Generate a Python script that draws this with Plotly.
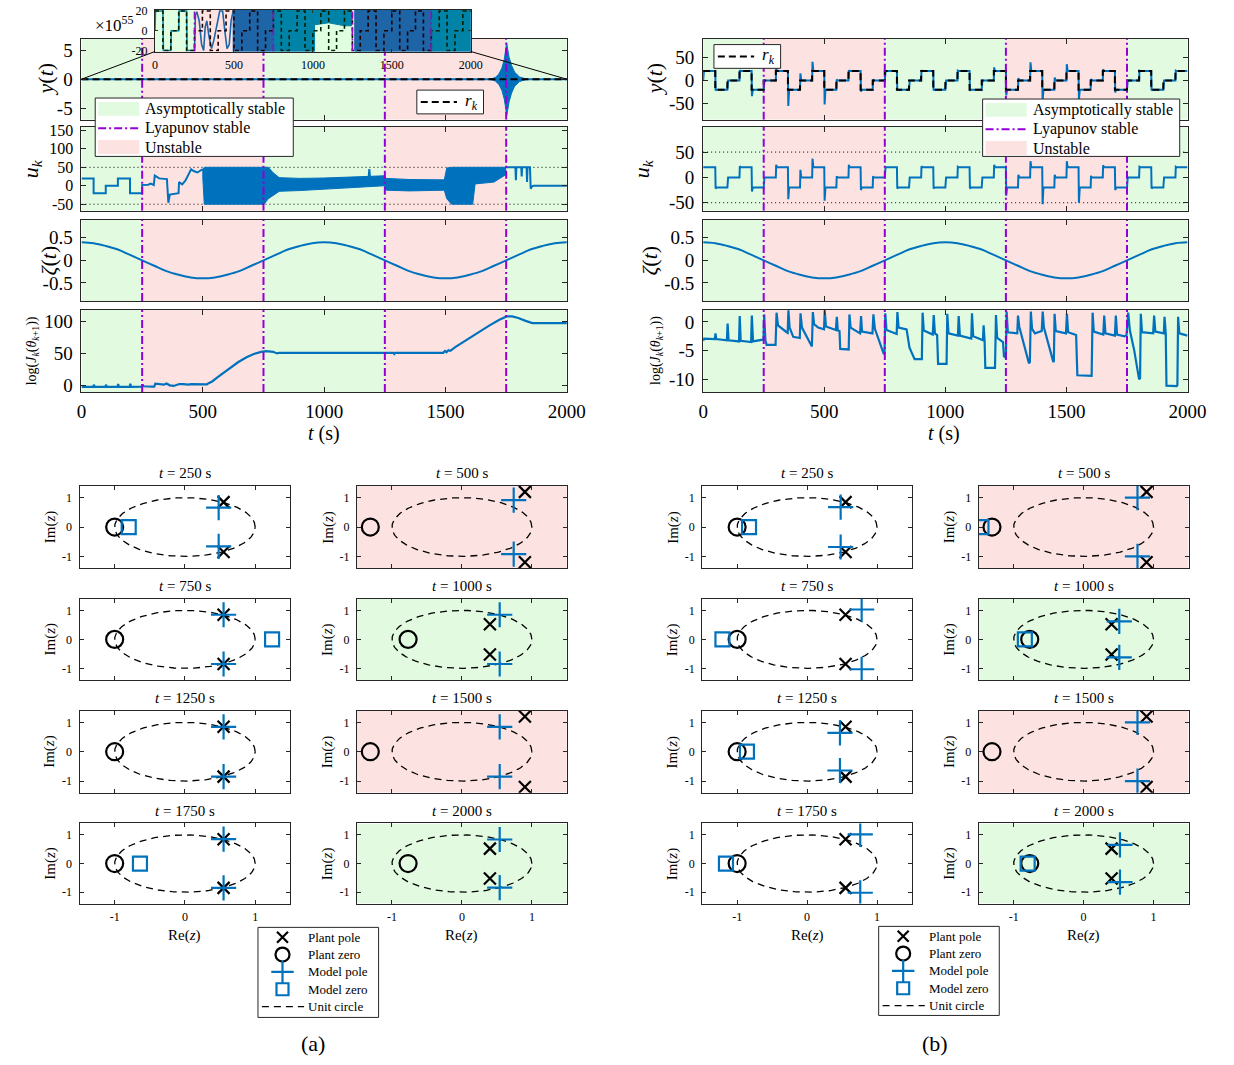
import numpy as np
import plotly.graph_objects as go

W, H = 1234, 1065
SERIF = "Liberation Serif"
BLUE = "#0072BD"
PURPLE = "#9400D3"
GREEN = "#E2FBE0"
PINK = "#FDE2E2"
EDGE = "#262626"
GREEN_VEIL = "rgba(0,255,0,0.12)"
PINK_VEIL = "rgba(255,0,0,0.115)"

# ---------------- data ----------------
region_edges = [0, 250, 750, 1250, 1750, 2000]
region_kind = ["stable", "unstable", "stable", "unstable", "stable"]
lyap_times = [250, 750, 1250, 1750]

step_s = 50
# reference command r_k, one level per 50 s step
r_levels = [20, -20, 0, 20, -20, 0, 20, -20, 0, 20,
            -20, 0, 20, -20, 0, 20, -20, 0, 20, -20,
            0, 20, -20, 0, 20, -20, 0, 20, -20, 0,
            20, -20, 0, 20, -20, 0, 20, -20, 0, 20]

# scheduling variable zeta(t)
zeta_t = [0, 50, 100, 150, 200, 250, 300, 350, 400, 450, 500, 550, 600, 650, 700, 750, 800, 850, 900, 950,
          1000, 1050, 1100, 1150, 1200, 1250, 1300, 1350, 1400, 1450, 1500, 1550, 1600, 1650, 1700, 1750,
          1800, 1850, 1900, 1950, 2000]
zeta_v = [0.40, 0.38, 0.32, 0.24, 0.12, 0.00, -0.12, -0.24, -0.32, -0.38, -0.40, -0.38, -0.32, -0.24, -0.12,
          0.00, 0.12, 0.24, 0.32, 0.38, 0.40, 0.38, 0.32, 0.24, 0.12, 0.00, -0.12, -0.24, -0.32, -0.38,
          -0.40, -0.38, -0.32, -0.24, -0.12, 0.00, 0.12, 0.24, 0.32, 0.38, 0.40]

# (a) output y(t) near zero (inset scale)
ya_t = [0, 3, 50, 53, 100, 103, 150, 153, 200, 203, 250, 256, 265, 280, 295, 308, 318, 328, 342, 358,
        372, 388, 400, 410, 428, 442, 456, 470, 482, 495]
ya_v = [0, 20, 20, -20, -20, 0, 0, 20, 20, -20, -20, 16, 19, 10, -14, -20, 4, 10, -6, -18,
        -10, 5, 12, 20, 20, 0, -18, -14, 10, 20]
# (a) envelope of fast oscillation of y(t) (inset scale)
ya_band1_t = [495, 1010]
ya_band1_hi = [21, 21]
ya_band1_lo = [-21, -21]
ya_band2_t = [1010, 1100, 1200, 1245]
ya_band2_hi = [21, 21, 21, 21]
ya_band2_lo = [6, 8, 5, 5]
ya_band3_t = [1265, 2000]
ya_band3_hi = [21, 21]
ya_band3_lo = [-21, -21]
# (a) burst of y(t), units of 1e55
burst_t = [1685, 1705, 1720, 1732, 1742, 1748, 1752, 1756, 1762, 1772, 1785, 1805, 1835]
burst_hi = [0, 0.3, 0.9, 1.9, 3.4, 5.0, 6.3, 5.2, 3.8, 2.4, 1.2, 0.4, 0]
burst_lo = [0, -0.3, -0.9, -1.9, -3.4, -5.0, -6.3, -5.4, -3.9, -2.4, -1.2, -0.4, 0]

# (a) control input u_k
ua_t = [0, 50, 50, 100, 100, 150, 150, 200, 200, 250, 250, 275, 285, 298, 302, 320, 352, 355, 358, 364,
        385, 400, 402, 415, 428, 440, 452, 462, 478, 492, 500]
ua_v = [20, 20, -20, -20, 0, 0, 20, 20, -20, -20, 2, 3, 6, 2, 28, 20, 18, -20, -46, -24,
        -22, -20, 10, 4, 14, 28, 45, 40, 36, 42, 45]
uaA_t = [500, 506, 700, 752, 770, 790, 815]
uaA_hi = [45, 50, 50, 50, 50, 35, 22]
uaA_lo = [20, -50, -50, -50, -35, -25, -15]
uaB_t = [815, 900, 1000, 1100, 1200, 1248]
uaB_hi = [22, 20, 21, 23, 25, 27]
uaB_lo = [-15, -13, -10, -6, -2, 0]
uaC_t = [1248, 1256, 1350, 1450, 1495]
uaC_hi = [27, 20, 17, 15, 16]
uaC_lo = [0, -12, -14, -13, -12]
uaD_t = [1495, 1505, 1525, 1612, 1622, 1700, 1748]
uaD_hi = [16, 48, 50, 50, 50, 50, 50]
uaD_lo = [-12, -35, -50, -50, 5, 10, 30]
ua_spike_t = [1183, 1186, 1189]
ua_spike_v = [20, 45, 22]
ua_tail_t = [1748, 1788, 1790, 1792, 1812, 1814, 1816, 1834, 1836, 1838, 1848, 1851, 1855, 1862, 2000]
ua_tail_v = [50, 50, 15, 50, 50, 25, 50, 50, 10, 50, 50, -8, -3, 0, 0]

# (a) log cost
ja_t = [0, 49, 51, 54, 99, 101, 104, 149, 151, 154, 199, 201, 204, 249, 252, 256, 292, 300, 304, 318,
        340, 350, 356, 364, 380, 398, 403, 420, 440, 452, 470, 490, 505, 517, 522, 540, 560, 582, 610, 645,
        680, 710, 740, 760, 790, 805, 815, 1000, 1200, 1285, 1289, 1293, 1400, 1490, 1498, 1504, 1512, 1520,
        1540, 1600, 1640, 1680, 1720, 1752, 1775, 1800, 1830, 1858, 2000]
ja_v = [-2.8, -2.8, 0.5, -2.8, -2.8, 0.5, -2.8, -2.8, 1.5, -2.8, -2.8, 2.0, -2.8, -2.5, 1.0, -2.0, -2.5, -2.5,
        2.0, 1.0, 0.5, 2.5, 1.5, -0.5, -1.5, 0.0, 1.5, 1.5, 0.5, 1.5, 1.5, 1.5, 2.0, 1.0, 2.5, 6.0, 12.0, 18.5,
        27.0, 36.0, 44.0, 49.0, 52.5, 53.5, 52.5, 50.0, 51.0, 51.0, 51.0, 51.0, 49.0, 51.0, 51.0, 51.0, 54.0,
        52.0, 55.0, 54.0, 60.0, 75.0, 85.0, 94.0, 103.0, 108.5, 108.5, 106.0, 101.5, 98.0, 98.0]

# (b) peak value of the transient at the start of every reference step
yb_peak = [20, -22, 0, 22, -34, 0, 27, -55, 15, 40,
           -52, 2, 22, -24, 2, 20, -22, 0, 22, -22,
           0, 21, -22, 0, 28, -32, 5, 39, -45, 6,
           35, -42, 3, 24, -26, 0, 21, -22, 0, 21]
ub_peak = [20, -22, 0, 22, -28, 0, 25, -43, 15, 37,
           -46, 2, 25, -25, 2, 20, -22, 0, 22, -22,
           0, 21, -22, 0, 25, -36, 5, 32, -53, 5,
           32, -50, 3, 24, -25, 0, 21, -22, 0, 21]

# (b) log cost
jb_t = [0, 3, 48, 51, 54, 98, 101, 105, 148, 151, 155, 198, 201, 206,
        246, 249, 252, 257, 262, 299, 303, 309, 345, 349, 352, 357, 372,
        399, 402, 408, 449, 453, 458, 475, 499, 502, 507,
        548, 552, 556, 563, 566, 601, 604, 609, 648, 652, 656, 699, 703, 709,
        746, 749, 752, 757, 799, 802, 807, 840, 852, 873, 903, 906, 911,
        948, 952, 957, 966, 970, 1005, 1008, 1013, 1052, 1055, 1060, 1107, 1110, 1115,
        1155, 1158, 1162, 1165, 1205, 1209, 1214, 1238, 1242, 1250, 1253, 1258,
        1297, 1300, 1305, 1345, 1349, 1353, 1358, 1370, 1398, 1402, 1407,
        1446, 1448, 1451, 1456, 1498, 1502, 1507, 1540, 1545, 1604, 1608, 1613,
        1652, 1656, 1661, 1700, 1704, 1709, 1740, 1748, 1755, 1762, 1780,
        1800, 1804, 1807, 1812, 1858, 1862, 1867, 1902, 1905, 1910, 1913,
        1955, 1958, 1961, 1966, 2000]
jb_v = [-3.3, -2.9, -3.0, -2.0, -3.0, -3.2, -0.3, -3.2, -3.4, 1.0, -3.3, -3.5, 1.1, -3.4,
        -3.1, -2.9, 1.3, -3.2, -4.0, -4.0, 1.6, -0.6, -1.8, -1.9, 2.0, -1.0, -2.6,
        -2.8, 1.5, -1.0, -4.3, 1.7, -0.4, -1.0, -1.3, 2.0, -0.8,
        -1.4, 0.9, -1.5, -1.6, -4.7, -4.8, 1.3, -1.0, -2.0, 1.0, -1.7, -2.0, 1.3, -1.2,
        -5.6, -5.4, 1.5, -1.4, -2.1, 1.7, -1.0, -1.3, -4.5, -6.5, -6.5, 1.6, -1.5,
        -2.2, 1.2, -2.0, -2.3, -7.3, -7.3, 1.4, -2.0, -2.4, 1.0, -2.4, -2.9, 1.5, -2.5,
        -3.2, -0.6, -3.2, -8.0, -8.0, 1.2, -2.8, -3.5, -6.0, -6.2, 1.8, -1.8,
        -2.0, 1.1, -0.8, -7.2, -7.0, 1.8, -1.2, -2.0, -1.6, 1.8, -1.0,
        -7.0, -6.8, 1.4, -1.6, -2.0, 1.4, -1.8, -2.3, -9.3, -9.4, 1.6, -1.7,
        -2.2, 1.1, -2.0, -2.4, 1.1, -2.2, -2.5, -2.3, 1.6, -1.5, -5.0,
        -10.0, -9.8, 1.4, -1.8, -2.0, 1.1, -1.7, -2.0, 0.9, -2.0, -11.1,
        -11.2, -11.0, 0.9, -2.0, -2.4]

# pole-zero snapshots
pz_times = [250, 500, 750, 1000, 1250, 1500, 1750, 2000]
pz_shade = [None, "unstable", None, "stable", None, "unstable", None, "stable"]
plant_pole_re = [0.55, 0.90, 0.55, 0.40, 0.55, 0.90, 0.55, 0.40]
plant_pole_im = [0.85, 1.20, 0.85, 0.52, 0.85, 1.20, 0.85, 0.52]
plant_zero_re = [-1.00, -1.31, -1.00, -0.77, -1.00, -1.31, -1.00, -0.77]
a_model_pole_re = [0.48, 0.74, 0.55, 0.54, 0.55, 0.54, 0.55, 0.54]
a_model_pole_im = [0.66, 0.92, 0.85, 0.85, 0.85, 0.85, 0.85, 0.84]
a_model_zero_re = [-0.80, None, 1.24, None, None, None, -0.64, None]
b_model_pole_re = [0.48, 0.77, 0.78, 0.51, 0.47, 0.77, 0.76, 0.52]
b_model_pole_im = [0.68, 1.00, 1.03, 0.62, 0.64, 1.00, 1.02, 0.65]
b_model_zero_re = [-0.83, -1.46, -1.21, -0.84, -0.86, None, -1.16, -0.80]

# ---------------- figure ----------------
fig = go.Figure()
lay = dict(width=W, height=H, margin=dict(l=0, r=0, t=0, b=0, pad=0),
           paper_bgcolor="white", plot_bgcolor="rgba(0,0,0,0)",
           showlegend=False, font=dict(family=SERIF, color="black"))
shapes, annots = [], []


def refs(n):
    return ("x" if n == 1 else f"x{n}"), ("y" if n == 1 else f"y{n}")


def keys(n):
    return ("xaxis" if n == 1 else f"xaxis{n}"), ("yaxis" if n == 1 else f"yaxis{n}")


def fmt(v):
    return f"{v:g}"


def axes(n, xpx, ypx, xr, yr, xt, yt, fs, show_x=True, ticklen=5, yfs=None):
    xk, yk = keys(n)
    xn, yn = refs(n)
    base = dict(showline=True, mirror="ticks", linecolor=EDGE, linewidth=1,
                ticks="inside", ticklen=ticklen, tickwidth=1, tickcolor=EDGE,
                showgrid=False, zeroline=False, fixedrange=True, tickmode="array",
                tickfont=dict(family=SERIF, size=fs, color="black"))
    lay[xk] = dict(base, domain=[xpx[0] / W, xpx[1] / W], range=xr, anchor=yn,
                   tickvals=xt, ticktext=[fmt(v) for v in xt], showticklabels=show_x,
                   ticklabelstandoff=2)
    lay[yk] = dict(base, domain=[1 - ypx[1] / H, 1 - ypx[0] / H], range=yr, anchor=xn,
                   tickvals=yt, ticktext=[fmt(v) for v in yt], ticklabelstandoff=4)
    if yfs:
        lay[yk]["tickfont"] = dict(family=SERIF, size=yfs, color="black")
    return xn, yn


def line(xn, yn, x, y, color=BLUE, width=2, dash=None, shape="linear"):
    fig.add_trace(go.Scatter(x=x, y=y, mode="lines", xaxis=xn, yaxis=yn, hoverinfo="skip",
                             line=dict(color=color, width=width, dash=dash, shape=shape)))


def bands(xn, yn, segments, width=1):
    xs, ys = [], []
    for ts, hi, lo in segments:
        xs += list(ts) + list(ts[::-1]) + [ts[0], None]
        ys += list(hi) + list(lo[::-1]) + [hi[0], None]
    fig.add_trace(go.Scatter(x=xs, y=ys, mode="lines", fill="toself", fillcolor=BLUE,
                             line=dict(color=BLUE, width=width), xaxis=xn, yaxis=yn,
                             hoverinfo="skip"))


def stairs(levels, dur, scale=1.0):
    xs, ys = [], []
    for k, lv in enumerate(levels):
        xs += [k * dur, (k + 1) * dur]
        ys += [lv * scale, lv * scale]
    return xs, ys


def tracked(levels, peaks, dur, y0):
    xs, ys = [0.0], [y0]
    for k, (lv, pk) in enumerate(zip(levels, peaks)):
        t0 = k * dur
        if pk != lv:
            xs += [t0 + 1.5, t0 + 5]
            ys += [pk, lv]
        else:
            xs += [t0 + 3]
            ys += [lv]
        xs.append(t0 + dur)
        ys.append(lv)
    return xs, ys


def shade(xn, yn, yr, veil=False):
    for e0, e1, kind in zip(region_edges[:-1], region_edges[1:], region_kind):
        if veil:
            col = GREEN_VEIL if kind == "stable" else PINK_VEIL
        else:
            col = GREEN if kind == "stable" else PINK
        shapes.append(dict(type="rect", xref=xn, yref=yn, x0=e0, x1=e1, y0=yr[0], y1=yr[1],
                           fillcolor=col, line=dict(width=0), layer="above" if veil else "below"))


def lyap(xn, yn, yr, width=2):
    xs, ys = [], []
    for t in lyap_times:
        xs += [t, t, None]
        ys += [yr[0], yr[1], None]
    line(xn, yn, xs, ys, color=PURPLE, width=width, dash="8px,3px,2px,3px")


def hlines(xn, yn, levels):
    xs, ys = [], []
    for v in levels:
        xs += [0, 2000, None]
        ys += [v, v, None]
    line(xn, yn, xs, ys, color="black", width=1, dash="1px,3px")


OV = ("x26", "y26")


def txt(x, y, s, size, anchor="center", angle=0):
    annots.append(dict(x=x, y=y, xref=OV[0], yref=OV[1], text=s, showarrow=False,
                       xanchor=anchor, yanchor="middle", textangle=angle,
                       font=dict(family=SERIF, size=size, color="black")))


def pxrect(x0, y0, x1, y1, fill, edge=None, ew=1):
    shapes.append(dict(type="rect", xref=OV[0], yref=OV[1], x0=x0, y0=y0, x1=x1, y1=y1,
                       fillcolor=fill, layer="above",
                       line=dict(color=edge or "rgba(0,0,0,0)", width=ew if edge else 0)))


def pxline(x0, y0, x1, y1, color="black", width=1, dash=None):
    shapes.append(dict(type="line", xref=OV[0], yref=OV[1], x0=x0, y0=y0, x1=x1, y1=y1,
                       layer="above", line=dict(color=color, width=width, dash=dash)))


# ---- time-series panels ----
rows_t = [(34, 116), (123, 208), (217, 299), (308, 391)]
tx = [0, 500, 1000, 1500, 2000]
a_ranges = [(-7, 7), (-68, 160), (-0.9, 0.9), (-11, 119)]
a_ticks = [[-5, 0, 5], [-50, 0, 50, 100, 150], [-0.5, 0, 0.5], [0, 50, 100]]
a_tick_size = [19, 16, 19, 19]
b_ranges = [(-85, 90), (-66, 100), (-0.9, 0.9), (-12.2, 2.1)]
b_ticks = [[-50, 0, 50], [-50, 0, 50], [-0.5, 0, 0.5], [-10, -5, 0]]

ta = []
for i in range(4):
    xn, yn = axes(1 + i, (78, 573), rows_t[i], [0, 2000], list(a_ranges[i]), tx, a_ticks[i],
                  19, show_x=(i == 3), yfs=a_tick_size[i])
    shade(xn, yn, a_ranges[i])
    ta.append((xn, yn))
tb = []
for i in range(4):
    xn, yn = axes(5 + i, (712, 1206), rows_t[i], [0, 2000], list(b_ranges[i]), tx, b_ticks[i],
                  19, show_x=(i == 3))
    shade(xn, yn, b_ranges[i])
    tb.append((xn, yn))

# (a) y(t) in units of 1e55
xn, yn = ta[0]
line(xn, yn, ya_t + [2000], [v * 1e-55 for v in ya_v] + [0.0])
bands(xn, yn, [(burst_t, burst_hi, burst_lo)])
rx, ry = stairs(r_levels, step_s, 1e-55)
line(xn, yn, rx, ry, color="black", width=2, dash="7px,4px")
lyap(xn, yn, a_ranges[0])

# (a) u_k
xn, yn = ta[1]
hlines(xn, yn, [-50, 50])
line(xn, yn, ua_t, ua_v)
bands(xn, yn, [(uaA_t, uaA_hi, uaA_lo), (uaB_t, uaB_hi, uaB_lo),
               (uaC_t, uaC_hi, uaC_lo), (uaD_t, uaD_hi, uaD_lo)])
line(xn, yn, ua_spike_t, ua_spike_v)
line(xn, yn, ua_tail_t, ua_tail_v)
lyap(xn, yn, a_ranges[1])

# zeta
for (xn, yn), rg in ((ta[2], a_ranges[2]), (tb[2], b_ranges[2])):
    line(xn, yn, zeta_t, zeta_v, shape="spline")
    lyap(xn, yn, rg)

# (a) log J
xn, yn = ta[3]
line(xn, yn, ja_t, ja_v, width=2.2)
lyap(xn, yn, a_ranges[3])

# (b) y(t)
xn, yn = tb[0]
bx, by = tracked(r_levels, yb_peak, step_s, 0)
line(xn, yn, bx, by)
rx, ry = stairs(r_levels, step_s)
line(xn, yn, rx, ry, color="black", width=2, dash="7px,4px")
lyap(xn, yn, b_ranges[0])

# (b) u_k
xn, yn = tb[1]
hlines(xn, yn, [-50, 50])
bx, by = tracked(r_levels, ub_peak, step_s, 20)
line(xn, yn, bx, by)
lyap(xn, yn, b_ranges[1])

# (b) log J
xn, yn = tb[3]
line(xn, yn, jb_t, jb_v, width=2.2)
lyap(xn, yn, b_ranges[3])

# ---- pole-zero panels ----
pz_cols = {"a": [(76, 291), (359, 573)], "b": [(711, 925), (993, 1207)]}
pz_rows = [(486, 569), (600, 682), (713, 796), (827, 908)]
theta = np.linspace(0, 2 * np.pi, 241)
ucx, ucy = np.cos(theta), np.sin(theta)

for side, first, mp_re, mp_im, mz_re in (("a", 9, a_model_pole_re, a_model_pole_im, a_model_zero_re),
                                          ("b", 17, b_model_pole_re, b_model_pole_im, b_model_zero_re)):
    for i, tt in enumerate(pz_times):
        r, c = divmod(i, 2)
        xpx = pz_cols[side][c]
        ypx = pz_rows[r]
        xn, yn = axes(first + i, xpx, ypx, [-1.5, 1.5], [-1.4, 1.4], [-1, 0, 1], [-1, 0, 1],
                      12, show_x=(r == 3), ticklen=4)
        if pz_shade[i]:
            shapes.append(dict(type="rect", xref=xn, yref=yn, x0=-1.5, x1=1.5, y0=-1.4, y1=1.4,
                               fillcolor=GREEN if pz_shade[i] == "stable" else PINK,
                               line=dict(width=0), layer="below"))
        line(xn, yn, ucx, ucy, color="black", width=1.3, dash="7px,5px")
        fig.add_trace(go.Scatter(x=[plant_pole_re[i]] * 2, y=[plant_pole_im[i], -plant_pole_im[i]],
                                 mode="markers", xaxis=xn, yaxis=yn, hoverinfo="skip",
                                 marker=dict(symbol="x-thin-open", size=12, color="black",
                                             line=dict(color="black", width=2.2))))
        fig.add_trace(go.Scatter(x=[plant_zero_re[i]], y=[0], mode="markers", xaxis=xn, yaxis=yn,
                                 hoverinfo="skip",
                                 marker=dict(symbol="circle-open", size=17, color="black",
                                             line=dict(color="black", width=2.2))))
        fig.add_trace(go.Scatter(x=[mp_re[i]] * 2, y=[mp_im[i], -mp_im[i]], mode="markers",
                                 xaxis=xn, yaxis=yn, hoverinfo="skip",
                                 marker=dict(symbol="cross-thin-open", size=18, color=BLUE,
                                             line=dict(color=BLUE, width=2.2))))
        if mz_re[i] is not None:
            fig.add_trace(go.Scatter(x=[mz_re[i]], y=[0], mode="markers", xaxis=xn, yaxis=yn,
                                     hoverinfo="skip",
                                     marker=dict(symbol="square-open", size=14, color=BLUE,
                                                 line=dict(color=BLUE, width=2.2))))
        cx = (xpx[0] + xpx[1]) / 2
        txt(cx, ypx[0] - 13, f"<i>t</i> = {tt} s", 15)
        txt(xpx[0] - 30, (ypx[0] + ypx[1]) / 2, "Im(<i>z</i>)", 15, angle=-90)
        if r == 3:
            txt(cx, 940, "Re(<i>z</i>)", 15)

# ---- inset: y(t) of (a) at its natural scale ----
xn, yn = axes(25, (153, 475), (5, 47), [0, 2000], [-21, 21], tx, [-20, 0, 20], 12, ticklen=3)
shapes.append(dict(type="rect", xref=xn, yref=yn, x0=0, x1=2000, y0=-21, y1=21,
                   fillcolor="white", line=dict(width=0), layer="below"))
bands(xn, yn, [(ya_band1_t, ya_band1_hi, ya_band1_lo), (ya_band2_t, ya_band2_hi, ya_band2_lo),
               (ya_band3_t, ya_band3_hi, ya_band3_lo)])
line(xn, yn, ya_t, ya_v, width=1.6)
rx, ry = stairs(r_levels, step_s)
line(xn, yn, rx, ry, color="black", width=1.6, dash="4px,3px")
lyap(xn, yn, [-21, 21], width=1.6)
shade(xn, yn, [-21, 21], veil=True)

# ---- overlay canvas in pixel units (labels, legends) ----
lay["xaxis26"] = dict(domain=[0, 1], range=[0, W], visible=False, fixedrange=True, anchor="y26")
lay["yaxis26"] = dict(domain=[0, 1], range=[H, 0], visible=False, fixedrange=True, anchor="x26")

# connectors from inset to the zero line of y(t)
pxline(153, 47, 78, 75)
pxline(475, 47, 573, 75)
txt(112, 19, "×10<sup>55</sup>", 17)

# axis labels of the time-series panels
ylabels = ["<i>y</i>(<i>t</i>)", "<i>u<sub>k</sub></i>", "<i>ζ</i>(<i>t</i>)",
           "log(<i>J<sub>k</sub></i>(<i>θ</i><sub><i>k</i>+1</sub>))"]
lab_sizes = [22, 22, 22, 14]
a_lab_x = [41, 27, 44, 28]
b_lab_x = [662, 650, 657, 665]
for i in range(4):
    cy = (rows_t[i][0] + rows_t[i][1]) / 2
    txt(a_lab_x[i], cy, ylabels[i], lab_sizes[i], angle=-90)
    txt(b_lab_x[i], cy, ylabels[i], lab_sizes[i], angle=-90)
txt(325, 433, "<i>t</i> (s)", 20)
txt(958, 433, "<i>t</i> (s)", 20)

# stability legends
for (bx0, by0, bx1, by1) in ((92, 94, 294, 153), (997, 95, 1198, 153)):
    pxrect(bx0, by0, bx1, by1, "white", EDGE, 1)
    rys = [by0 + 11, by0 + 30.5, by0 + 49.5]
    pxrect(bx0 + 3, rys[0] - 7, bx0 + 45, rys[0] + 7, GREEN)
    pxline(bx0 + 3, rys[1], bx0 + 45, rys[1], PURPLE, 2, "8px,3px,2px,3px")
    pxrect(bx0 + 3, rys[2] - 7, bx0 + 45, rys[2] + 7, PINK)
    txt(bx0 + 49, rys[0], "Asymptotically stable", 16, anchor="left")
    txt(bx0 + 49, rys[1], "Lyapunov stable", 16, anchor="left")
    txt(bx0 + 49, rys[2], "Unstable", 16, anchor="left")

# reference legends
for (bx0, by0, bx1, by1) in ((420, 86, 488, 110), (723, 40, 791, 64)):
    pxrect(bx0, by0, bx1, by1, "white", EDGE, 1)
    cy = (by0 + by1) / 2
    pxline(bx0 + 4, cy, bx0 + 41, cy, "black", 2, "7px,4px")
    txt(bx0 + 56, cy, "<i>r<sub>k</sub></i>", 17)

# pole-zero legends
leg_names = ["Plant pole", "Plant zero", "Model pole", "Model zero", "Unit circle"]
for (bx0, by0, bx1, by1) in ((258, 932, 381, 1023), (891, 931, 1014, 1021)):
    pxrect(bx0, by0, bx1, by1, "rgba(0,0,0,0)", EDGE, 1)
    rys = [by0 + 10 + 17.5 * k for k in range(5)]
    gx = bx0 + 25
    fig.add_trace(go.Scatter(x=[gx], y=[rys[0]], mode="markers", xaxis=OV[0], yaxis=OV[1],
                             hoverinfo="skip", marker=dict(symbol="x-thin-open", size=11,
                                                           color="black", line=dict(color="black", width=2.2))))
    fig.add_trace(go.Scatter(x=[gx], y=[rys[1]], mode="markers", xaxis=OV[0], yaxis=OV[1],
                             hoverinfo="skip", marker=dict(symbol="circle-open", size=14,
                                                           color="black", line=dict(color="black", width=2.2))))
    fig.add_trace(go.Scatter(x=[gx], y=[rys[2]], mode="markers", xaxis=OV[0], yaxis=OV[1],
                             hoverinfo="skip", marker=dict(symbol="cross-thin-open", size=16,
                                                           color=BLUE, line=dict(color=BLUE, width=2.2))))
    fig.add_trace(go.Scatter(x=[gx], y=[rys[3]], mode="markers", xaxis=OV[0], yaxis=OV[1],
                             hoverinfo="skip", marker=dict(symbol="square-open", size=12,
                                                           color=BLUE, line=dict(color=BLUE, width=2.2))))
    pxline(bx0 + 4, rys[4], bx0 + 47, rys[4], "black", 1.3, "7px,5px")
    for k, nm in enumerate(leg_names):
        txt(bx0 + 49, rys[k], nm, 13, anchor="left")

txt(314, 1049, "(a)", 22)
txt(948, 1049, "(b)", 22)

lay["shapes"] = shapes
lay["annotations"] = annots
fig.update_layout(**lay)
fig.write_html("out.html")
